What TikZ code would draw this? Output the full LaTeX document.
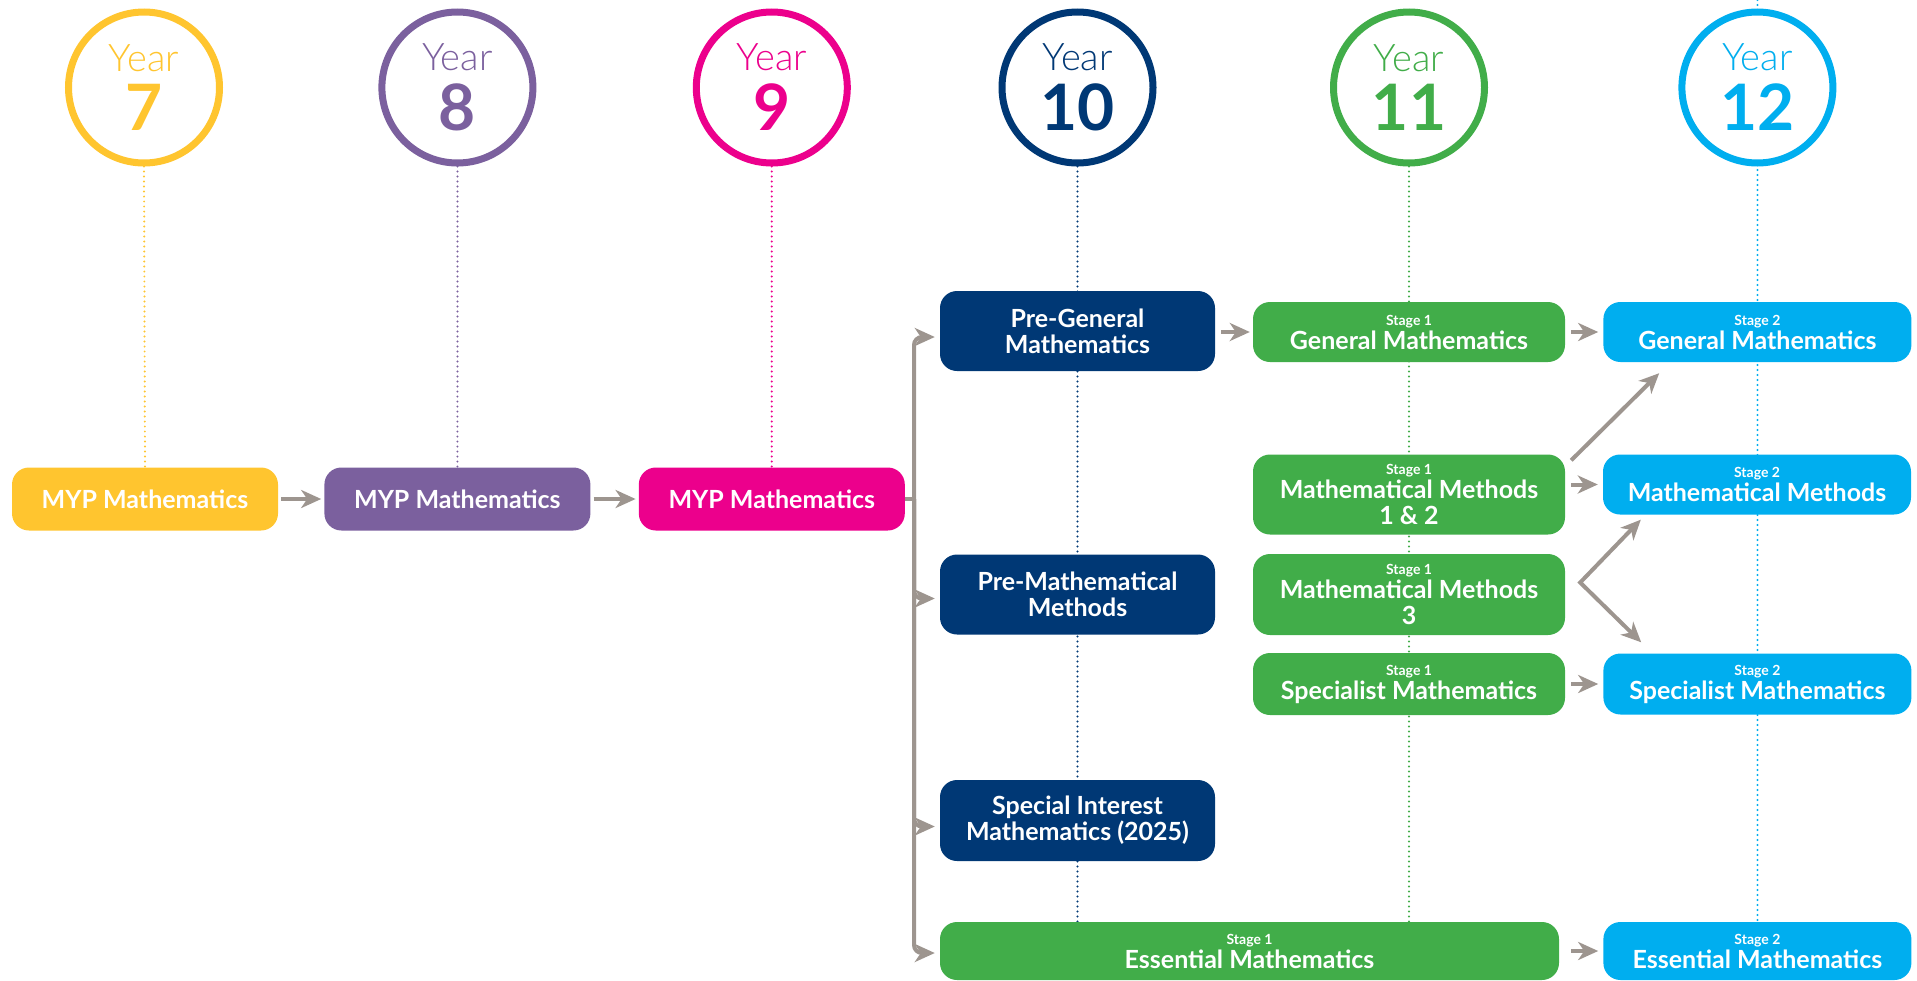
\documentclass[tikz,border=0pt]{standalone}
\usepackage{fontspec}
\setmainfont{Lato}
\newfontfamily\yearfont{Lato Light}
\usetikzlibrary{positioning,calc,arrows.meta,backgrounds}
\definecolor{ygold}{RGB}{255,197,47}
\definecolor{ypurple}{RGB}{123,96,158}
\definecolor{ypink}{RGB}{236,0,140}
\definecolor{ynavy}{RGB}{0,56,117}
\definecolor{ygreen}{RGB}{65,173,73}
\definecolor{ycyan}{RGB}{0,174,239}
\definecolor{arrgray}{RGB}{157,149,143}
\tikzset{yearc/.style={circle, draw=#1, line width=7pt, fill=white, minimum size=151pt, inner sep=0pt, text=#1, align=center}}
\tikzset{ybox/.style={rounded corners=17pt, fill=#1, text=white, font=\bfseries\fontsize{25}{26}\selectfont, align=center, inner sep=0pt}}
\tikzset{myp/.style={ybox=#1, minimum width=266pt, minimum height=63pt}}
\tikzset{pre/.style={ybox=ynavy, minimum width=275pt, minimum height=80pt}}
\tikzset{sone/.style={ybox=ygreen, minimum width=312pt, minimum height=#1}}
\tikzset{stwo/.style={ybox=ycyan, minimum width=308pt, minimum height=#1}}
\tikzset{dots/.style={draw=#1, line width=2.2pt, dash pattern=on 0pt off 5pt, line cap=round}}
\tikzset{arr/.style={draw=arrgray, line width=4pt, ->}}
\newcommand\yr[1]{{\yearfont\fontsize{38}{40}\selectfont Year}\\[12pt]{\bfseries\fontsize{64}{64}\selectfont #1}}
\newcommand\stg[2]{{\fontsize{14}{14}\selectfont Stage #1}\\[-2pt]#2}

\begin{document}
\begin{tikzpicture}[x=1pt, y=-1pt, >={Stealth[length=20pt, width=18pt, inset=6pt]}]
	\useasboundingbox (0,0) rectangle (1917,980);

	\node[myp=ygold] (myp7) at (145,499) {MYP Mathematics};
	\node[myp=ypurple, right=46pt of myp7] (myp8) {MYP Mathematics};
	\node[myp=ypink, right=48pt of myp8] (myp9) {MYP Mathematics};

	\node[pre] (pregen) at (1077.5,331) {Pre-General\\Mathematics};
	\node[pre] (premm) at (1077.5,594.5) {Pre-Mathematical\\Methods};
	\node[pre, minimum height=81pt] (spint) at (1077.5,820.5) {Special Interest\\Mathematics (2025)};
	\node[sone=58pt, minimum width=619pt] (ess1) at (1249.5,951) {\stg{1}{Essential Mathematics}};

	\node[sone=60pt] (gen1) at (1409,332) {\stg{1}{General Mathematics}};
	\node[sone=80pt] (mm12) at (1409,494.5) {\stg{1}{Mathematical Methods\\1 \& 2}};
	\node[sone=81pt] (mm3) at (1409,594.5) {\stg{1}{Mathematical Methods\\3}};
	\node[sone=62pt] (sp1) at (1409,684) {\stg{1}{Specialist Mathematics}};

	\node[stwo=60pt, right=38pt of gen1] (gen2) {\stg{2}{General Mathematics}};
	\node[stwo=60pt] (mms2) at (1757,484.5) {\stg{2}{Mathematical Methods}};
	\node[stwo=61pt, right=38pt of sp1] (sp2) {\stg{2}{Specialist Mathematics}};
	\node[stwo=58pt, right=44pt of ess1] (ess2) {\stg{2}{Essential Mathematics}};

	\node[yearc=ygold] (y7) at (144,87.5) {\yr{7}};
	\node[yearc=ypurple] (y8) at (myp8 |- y7) {\yr{8}};
	\node[yearc=ypink] (y9) at (myp9 |- y7) {\yr{9}};
	\node[yearc=ynavy] (y10) at (pregen |- y7) {\yr{10}};
	\node[yearc=ygreen] (y11) at (gen1 |- y7) {\yr{11}};
	\node[yearc=ycyan] (y12) at (gen2 |- y7) {\yr{12}};

	\begin{pgfonlayer}{background}
		\draw[dots=ygold] (y7.south) -- (myp7.north);
		\draw[dots=ypurple] (y8.south) -- (myp8.north);
		\draw[dots=ypink] (y9.south) -- (myp9.north);
		\draw[dots=ynavy] (y10.south) -- (y10 |- ess1.north);
		\draw[dots=ygreen] (y11.south) -- (y11 |- ess1.north);
		\draw[dots=ycyan] (y12 |- 0,0) -- (y12 |- ess2.north);
	\end{pgfonlayer}

	\draw[arr, shorten <=3pt, shorten >=3pt] (myp7) -- (myp8);
	\draw[arr, shorten <=3pt, shorten >=3pt] (myp8) -- (myp9);

	\coordinate[right=9pt of myp9.east] (jn);
	\draw[arrgray, line width=4pt] (myp9.east) -- (jn);
	\draw[arr, rounded corners=8pt, shorten >=5pt] (jn) |- ([yshift=-6pt]pregen.west);
	\draw[arr, rounded corners=8pt, shorten >=5pt] (jn) |- ([yshift=-4pt]premm.west);
	\draw[arr, rounded corners=8pt, shorten >=5pt] (jn) |- ([yshift=-6pt]spint.west);
	\draw[arr, rounded corners=8pt, shorten >=5pt] (jn) |- ([yshift=-2pt]ess1.west);

	\draw[arr, shorten <=6pt, shorten >=3pt] (pregen.east |- gen1.west) -- (gen1.west);
	\draw[arr, shorten <=6pt, shorten >=5pt] (gen1) -- (gen2);
	\draw[arr, shorten <=6pt, shorten >=5pt] (mm12.east |- mms2.west) -- (mms2.west);
	\draw[arr, shorten <=6pt, shorten >=5pt] (sp1.east |- sp2.west) -- (sp2.west);
	\draw[arr, shorten <=12pt, shorten >=5pt] (ess1) -- (ess2);

	\coordinate (dga) at ([shift={(6,6)}]mm12.north east);
	\coordinate (dgb) at ([shift={(56,11)}]gen2.south west);
	\draw[arr] (dga) -- (dgb);

	\coordinate (chv) at ([shift={(15,-12)}]mm3.east);
	\coordinate (cha) at ([shift={(38,5)}]mms2.south west);
	\coordinate (chb) at ([shift={(38,-11)}]sp2.north west);
	\draw[arr, <->] (cha) -- (chv) -- (chb);
\end{tikzpicture}
\end{document}
